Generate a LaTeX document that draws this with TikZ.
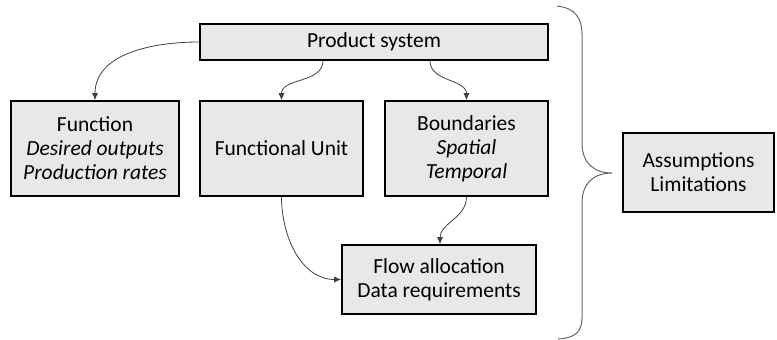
\documentclass[tikz,border=0pt]{standalone}
\usepackage{fontspec}
\setmainfont{Carlito}
\usepackage{tikz}
\usetikzlibrary{arrows.meta,positioning}

\tikzset{
  block/.style={draw=black, line width=1.6pt, fill=black!9, inner sep=0pt,
    align=center, text=black, font=\fontsize{21.5}{24}\selectfont},
  link/.style={->, draw=black!75, line width=0.8pt},
  brace/.style={draw=black!60, line width=1pt}
}

\begin{document}
\begin{tikzpicture}[x=1pt, y=-1pt, >={Latex[length=7pt,width=6pt]}]
  \useasboundingbox (0,0) rectangle (777,340);
  % boxes
  \node[block, minimum width=348pt, minimum height=36pt] (prod) at (374,42) {Product system};
  \node[block, minimum width=168pt, minimum height=95pt] (func) at (95,148.5)
    {Function\\ \textit{Desired outputs}\\ \textit{Production rates}};
  \node[block, minimum width=163pt, minimum height=95pt] (unit) at (281.5,148.5) {Functional Unit};
  \node[block, minimum width=163pt, minimum height=95pt] (bound) at (466.5,148.5)
    {Boundaries\\ \textit{Spatial}\\ \textit{Temporal}};
  \node[block, minimum width=194pt, minimum height=69pt] (flow) at (439,279.5)
    {Flow allocation\\ Data requirements};
  \node[block, minimum width=151pt, minimum height=79pt] (assum) at (698.5,172.5)
    {Assumptions\\ Limitations};
  % connectors
  \draw[link] (prod.west) to[out=180, in=90] (func.north);
  \draw[link] ([xshift=-51pt]prod.south) to[out=-90, in=90] (unit.north);
  \draw[link] ([xshift=56pt]prod.south) to[out=-90, in=90] (bound.north);
  \draw[link] (unit.south) to[out=-90, in=180] (flow.west);
  \draw[link] (bound.south) to[out=-90, in=90] ([xshift=1pt]flow.north);
  % brace
  \draw[brace] (557,6) .. controls (575,8) and (582,18) .. (582,34)
    -- (582,143) .. controls (582,163) and (594,173) .. (612,173)
    .. controls (594,173) and (582,183) .. (582,203)
    -- (582,318) .. controls (582,332) and (575,338) .. (558,339);
\end{tikzpicture}
\end{document}
